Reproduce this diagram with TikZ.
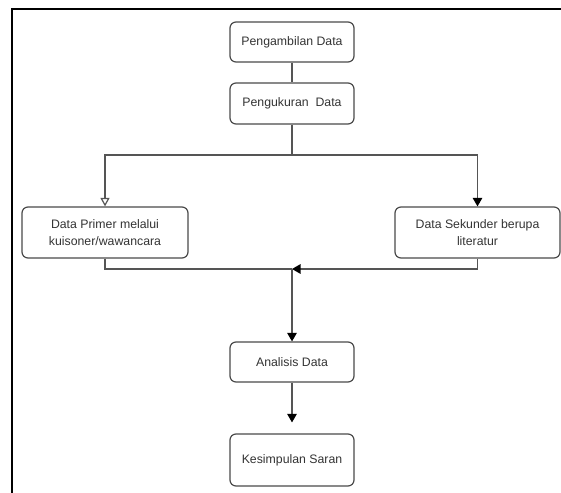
\documentclass[tikz,border=0pt]{standalone}
\usepackage{fontspec}
\setmainfont{Liberation Sans}
\usetikzlibrary{arrows.meta}
\definecolor{boxc}{HTML}{4A4A4A}
\definecolor{linec}{HTML}{555555}
\definecolor{txt}{HTML}{333333}
\begin{document}
\begin{tikzpicture}[x=1pt,y=-1pt,
  box/.style={draw=boxc, line width=1.2pt, rounded corners=6pt, minimum width=124pt, minimum height=40pt, align=center, font=\fontsize{12.3}{17.5}\selectfont, text=txt, inner sep=0pt},
  conn/.style={draw=linec, line width=1.2pt},
  tipf/.style={-{Triangle[length=8.5pt,width=9.5pt,color=black]}},
  tipo/.style={-{Triangle[open,length=8.5pt,width=9pt]}}]
\useasboundingbox (0,0) rectangle (561,492);
% outer frame
\draw[black, line width=2pt] (11.5,493) -- (11.5,9) -- (562,9);
% nodes
\node[box] (b1) at (292,42) {Pengambilan Data};
\node[box, minimum height=41pt] (b2) at (292,103.5) {Pengukuran\ \ Data};
\node[box, minimum width=166pt, minimum height=51pt] (prim) at (105,232.5) {Data Primer melalui\\kuisoner/wawancara};
\node[box, minimum width=165pt, minimum height=51pt] (sek) at (477.5,232.5) {Data Sekunder berupa\\literatur};
\node[box] (ana) at (292,362) {Analisis Data};
\node[box, minimum height=52pt] (kes) at (292,460) {Kesimpulan Saran};
\coordinate (bus) at (292,155);
\coordinate (join) at (292,269);
% connectors
\draw[conn] (b1) -- (b2);
\draw[conn] (b2.south) -- (bus);
\draw[conn, tipo] (bus) -| (prim.north);
\draw[conn, tipf] (bus) -| (sek.north);
\draw[conn] (prim.south) |- (join);
\draw[conn, tipf] (sek.south) |- (join);
\draw[conn, tipf] (join) -- (ana.north);
\draw[conn, tipf, shorten >=11pt] (ana.south) -- (kes.north);
\end{tikzpicture}
\end{document}
